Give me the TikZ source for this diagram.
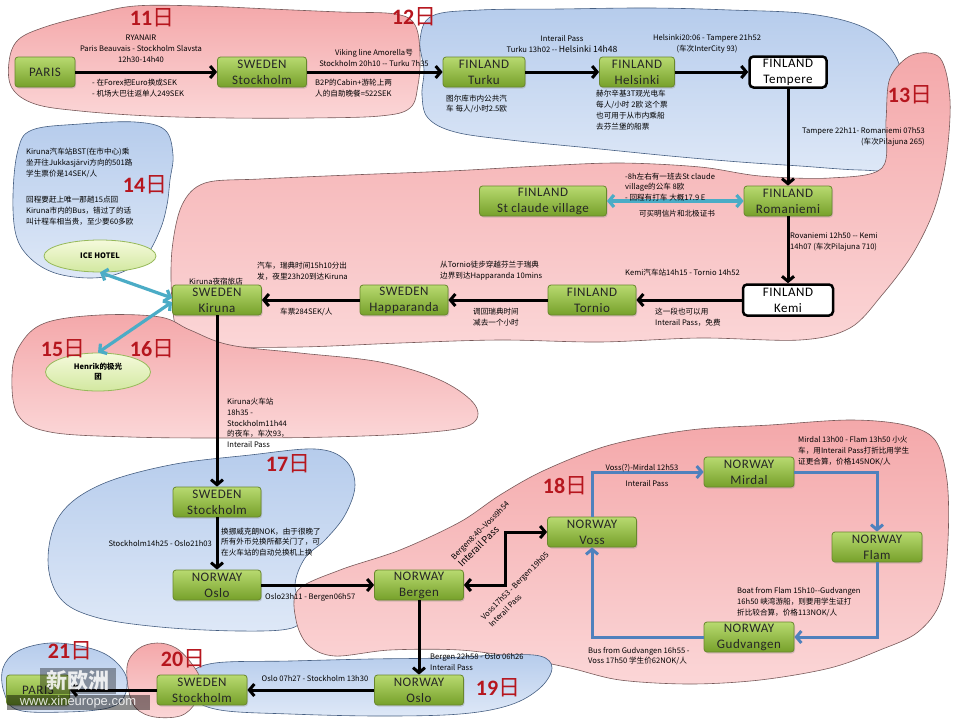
\documentclass[tikz,border=0pt]{standalone}
\usepackage{fontspec}
\setmainfont{Carlito}
\newfontfamily\cjk{Noto Sans CJK SC}
\newfontfamily\nodefont[LetterSpace=4]{Carlito}
\newfontfamily\wmfont{Liberation Sans}
\usetikzlibrary{arrows.meta,shapes.geometric,shadows,calc}
\definecolor{pinkT}{RGB}{244,168,170}
\definecolor{pinkB}{RGB}{251,214,215}
\definecolor{blueT}{RGB}{182,204,236}
\definecolor{blueB}{RGB}{222,232,247}
\definecolor{pinkLine}{RGB}{120,90,90}
\definecolor{blueLine}{RGB}{70,95,130}
\definecolor{gT}{RGB}{184,218,112}
\definecolor{gB}{RGB}{118,160,42}
\definecolor{gLine}{RGB}{105,135,45}
\definecolor{ellT}{RGB}{245,250,220}
\definecolor{ellB}{RGB}{210,232,160}
\definecolor{ellLine}{RGB}{150,185,90}
\definecolor{dayred}{RGB}{182,22,30}
\definecolor{tealA}{RGB}{75,172,198}
\definecolor{nblue}{RGB}{79,129,189}
\tikzset{
  pinkblob/.style={draw=pinkLine, line width=0.6pt, top color=pinkT, bottom color=pinkB},
  blueblob/.style={draw=blueLine, line width=0.6pt, top color=blueT, bottom color=blueB},
  gbox/.style={rectangle, rounded corners=3pt, draw=gLine, line width=0.8pt,
    top color=gT, bottom color=gB, minimum width=88pt, minimum height=30pt,
    inner sep=0pt, align=center, text=black!85,
    font=\nodefont\fontsize{13}{16}\selectfont,
    drop shadow={opacity=0.3, shadow xshift=1pt, shadow yshift=-1.5pt}},
  wbox/.style={rectangle, rounded corners=4pt, draw=black, line width=2.5pt,
    fill=white, minimum width=77pt, minimum height=31pt, inner sep=0pt,
    align=center, font=\nodefont\fontsize{13}{16}\selectfont},
  ell/.style={ellipse, draw=ellLine, line width=0.8pt, top color=ellT, bottom color=ellB,
    inner sep=0pt, align=center, font=\cjk\bfseries\fontsize{7.5}{10}\selectfont},
  lbl/.style={inner sep=0pt, align=left, font=\cjk\fontsize{7.6}{10.8}\selectfont},
  clbl/.style={lbl, align=center},
  rlbl/.style={lbl, align=right},
  day/.style={inner sep=0pt, text=dayred, font=\fontsize{22}{22}\selectfont\bfseries},
  blk/.style={draw=black, line width=3pt, -{Straight Barb[length=5pt,width=12pt]}},
  blkboth/.style={draw=black, line width=3pt, {Straight Barb[length=5pt,width=12pt]}-{Straight Barb[length=5pt,width=12pt]}},
  barr/.style={draw=nblue, line width=3pt, -{Straight Barb[length=5pt,width=12pt]}},
  tarr/.style={draw=tealA, line width=3.2pt, {Straight Barb[length=5pt,width=12pt]}-{Straight Barb[length=5pt,width=12pt]}},
}
\newcommand{\ri}{{\cjk\mdseries 日}}
\begin{document}
\begin{tikzpicture}[x=1pt,y=-1pt]
\useasboundingbox (0,0) rectangle (960,720);
\fill[white] (0,0) rectangle (960,720);
% ---------- background blobs ----------
\path[blueblob] plot[smooth cycle, tension=0.6] coordinates {(420,40) (432,16) (480,10) (560,9) (650,8) (730,10) (810,14) (865,28) (895,55) (905,95) (906,135) (900,168) (860,170) (800,166) (740,162) (670,156) (590,148) (510,140) (455,132) (428,118) (422,95) (424,70)};
\path[pinkblob] plot[smooth cycle, tension=0.6] coordinates {(9,62) (18,40) (45,27) (90,15) (135,6) (200,6) (270,9) (340,12) (395,14) (415,25) (420,55) (418,85) (410,108) (380,116) (310,118) (230,118) (150,116) (80,111) (35,104) (12,88)};
\path[pinkblob] plot[smooth cycle, tension=0.55] coordinates {(205,183) (260,179) (350,175) (450,171) (540,166) (620,163) (700,167) (760,176) (830,178) (882,168) (886,120) (890,78) (912,55) (940,58) (950,100) (946,160) (934,210) (912,255) (882,295) (850,328) (800,340) (700,338) (600,342) (500,340) (400,343) (300,347) (215,346) (180,335) (172,300) (172,250) (182,205)};
\path[blueblob] plot[smooth cycle, tension=0.6] coordinates {(18,150) (32,130) (80,124) (135,122) (165,130) (173,155) (170,180) (167,205) (160,230) (145,257) (120,273) (90,278) (55,273) (30,258) (16,235) (13,195)};
\path[pinkblob] plot[smooth cycle, tension=0.6] coordinates {(12,375) (20,345) (45,323) (100,315) (160,317) (190,330) (230,345) (300,353) (380,362) (440,380) (475,405) (470,425) (420,433) (330,437) (230,438) (130,437) (50,432) (18,415)};
\path[blueblob] plot[smooth cycle, tension=0.6] coordinates {(48,560) (60,515) (100,485) (170,465) (250,455) (315,449) (345,460) (355,485) (345,515) (325,540) (305,558) (295,585) (302,612) (292,628) (240,631) (160,627) (95,617) (60,598)};
\path[pinkblob] plot[smooth cycle, tension=0.55] coordinates {(298,590) (340,570) (400,550) (460,522) (500,495) (545,470) (610,445) (690,430) (770,425) (850,420) (905,425) (935,440) (947,480) (948,540) (941,600) (918,632) (880,650) (830,668) (760,680) (690,684) (620,680) (570,668) (520,658) (460,650) (390,650) (335,656) (308,645) (296,620)};
\path[blueblob] plot[smooth cycle, tension=0.6] coordinates {(190,675) (215,663) (290,661) (370,659) (440,658) (500,655) (540,656) (552,668) (540,688) (510,705) (460,714) (380,716) (290,714) (220,710) (192,697)};
\path[pinkblob] plot[smooth cycle, tension=0.6] coordinates {(127,667) (138,649) (157,643) (176,648) (192,664) (201,682) (196,702) (180,716) (150,716) (132,702)};
\path[blueblob] plot[smooth cycle, tension=0.6] coordinates {(3,668) (18,651) (50,643) (85,647) (110,657) (126,676) (124,697) (108,708) (66,712) (18,710) (4,692)};
% ---------- nodes ----------
\node[gbox, minimum width=60pt] (paris) at (45,72) {PARIS};
\node[gbox, minimum width=89pt] (sto1) at (262,72) {SWEDEN\\Stockholm};
\node[gbox, minimum width=82pt] (turku) at (484,72) {FINLAND\\Turku};
\node[gbox, minimum width=75pt] (hel) at (637,72) {FINLAND\\Helsinki};
\node[wbox] (tam) at (788,72) {FINLAND\\Tempere};
\node[gbox] (rov) at (788,201) {FINLAND\\Romaniemi};
\node[gbox, minimum width=127pt] (stc) at (543,201) {FINLAND\\St claude village};
\node[wbox, minimum width=90pt] (kemi) at (788,300) {FINLAND\\Kemi};
\node[gbox] (tor) at (592,300) {FINLAND\\Tornio};
\node[gbox] (hap) at (404,300) {SWEDEN\\Happaranda};
\node[gbox, minimum width=89pt] (kir) at (217,300) {SWEDEN\\Kiruna};
\node[ell, minimum width=112pt, minimum height=32pt] (ice) at (100,256) {ICE HOTEL};
\node[ell, minimum width=105pt, minimum height=38pt] (hen) at (98,372) {Henrik的极光\\团};
\node[gbox] (sto2) at (217,502) {SWEDEN\\Stockholm};
\node[gbox] (osl1) at (217,585) {NORWAY\\Oslo};
\node[gbox, minimum width=89pt] (ber) at (419,585) {NORWAY\\Bergen};
\node[gbox, minimum width=89pt] (voss) at (592,532) {NORWAY\\Voss};
\node[gbox, minimum width=90pt] (mir) at (749,472) {NORWAY\\Mirdal};
\node[gbox, minimum width=90pt] (flam) at (877,547) {NORWAY\\Flam};
\node[gbox, minimum width=90pt] (gud) at (749,637) {NORWAY\\Gudvangen};
\node[gbox, minimum width=89pt] (osl2) at (419,690) {NORWAY\\Oslo};
\node[gbox, minimum width=90pt] (sto3) at (202,690) {SWEDEN\\Stockholm};
\node[gbox, minimum width=63pt] (par2) at (38,690) {PARIS};
% ---------- connectors ----------
\draw[blk] (paris) -- (sto1);
\draw[blk] (sto1) -- (turku);
\draw[blk] (turku) -- (hel);
\draw[blk] (hel) -- (tam);
\draw[blk] (tam) -- (rov);
\draw[blk] (rov) -- (kemi);
\draw[blk] (kemi) -- (tor);
\draw[blk] (tor) -- (hap);
\draw[blk] (hap) -- (kir);
\draw[blk] (kir) -- (sto2);
\draw[blk] (sto2) -- (osl1);
\draw[blk] (osl1) -- (ber);
\draw[blkboth] (ber.east) -- ++(42,0) |- (voss.west);
\draw[barr] (voss.north) |- (mir.west);
\draw[barr] (mir.east) -| (flam.north);
\draw[barr] (flam.south) |- (gud.east);
\draw[barr] (gud.west) -| (voss.south);
\draw[blk] (ber) -- (osl2);
\draw[blk] (osl2) -- (sto3);
\draw[blk] (sto3) -- (par2);
\draw[tarr] (stc) -- (rov);
\draw[tarr] (ice.south) -- ([yshift=2pt]kir.west);
\draw[tarr] (hen.north) -- ([yshift=-2pt]kir.west);
% ---------- labels ----------
\node[clbl] (t1) at (141,49) {RYANAIR\\Paris Beauvais - Stockholm Slavsta\\12h30-14h40};
\node[lbl, anchor=west] (t2) at (92,88) {- 在Forex把Euro换成SEK\\- 机场大巴往返单人249SEK};
\node[clbl] (t3) at (374,58) {Viking line Amorella号\\Stockholm 20h10 -- Turku 7h35};
\node[lbl, anchor=west] (t4) at (315,88) {B2P的Cabin+游轮上两\\人的自助晚餐=522SEK};
\node[clbl] (t5) at (562,44) {Interail Pass\\Turku 13h02 -- {\fontsize{8.6}{10.8}\selectfont Helsinki 14h48}};
\node[clbl] (t6) at (707,44) {Helsinki20:06 - Tampere 21h52\\(车次InterCity 93)};
\node[lbl, anchor=west] (t7) at (446,104) {图尔库市内公共汽\\车 每人/小时2.5欧};
\node[lbl, anchor=west] (t8) at (596,110) {赫尔辛基3T观光电车\\每人/小时 2欧 这个票\\也可用于从市内乘船\\去芬兰堡的船票};
\node[rlbl, anchor=east] (t9) at (925,137) {Tampere 22h11- Romaniemi 07h53\\(车次Pilajuna 265)};
\node[lbl, anchor=west] (t10) at (625,187) {-8h左右有一班去St claude\\village的公车 8欧\\- 回程有打车 大概17.9 E};
\node[clbl] (t11) at (677,214) {可买明信片和北极证书};
\node[lbl, anchor=west] (t12) at (790,242) {Rovaniemi 12h50 -- Kemi\\14h07 (车次Pilajuna 710)};
\node[lbl, anchor=west] (t13) at (625,273) {Kemi汽车站14h15 - Tornio 14h52};
\node[lbl, anchor=west] (t14) at (655,317) {这一段也可以用\\Interail Pass，免费};
\node[lbl, anchor=west] (t15) at (440,271) {从Tornio徒步穿越芬兰于瑞典\\边界到达Happaranda 10mins};
\node[lbl, anchor=west] (t16) at (473,317) {调回瑞典时间\\减去一个小时};
\node[lbl, anchor=west] (t17) at (257,271) {汽车，瑞典时间15h10分出\\发，夜里23h20到达Kiruna};
\node[clbl] (t18) at (216,282) {Kiruna夜宿旅店};
\node[lbl, anchor=west] (t19) at (280,312) {车票284SEK/人};
\node[lbl, anchor=west] (t20) at (26,163) {Kiruna汽车站BST(在市中心)乘\\坐开往Jukkasjärvi方向的501路\\学生票价是14SEK/人};
\node[lbl, anchor=west] (t21) at (26,211) {回程要赶上唯一那趟15点回\\Kiruna市内的Bus，错过了的话\\叫计程车相当贵，至少要60多欧};
\node[lbl, anchor=west] (t22) at (227,423) {Kiruna火车站\\18h35 -\\Stockholm11h44\\的夜车，车次93，\\Interail Pass};
\node[rlbl, anchor=east] (t23) at (212,544) {Stockholm14h25 - Oslo21h03};
\node[lbl, anchor=west] (t24) at (221,542) {换挪威克朗NOK，由于很晚了\\所有外币兑换所都关门了，可\\在火车站的自动兑换机上换};
\node[lbl, anchor=west] (t25) at (265,597) {Oslo23h11 - Bergen06h57};
\node[lbl, anchor=west, rotate=45] (t26) at (456,562) {Bergen8:40--Voss9h54\\{\fontsize{9.5}{11}\selectfont Interail Pass}};
\node[lbl, anchor=west, rotate=45] (t27) at (486,622) {Voss17h53 - Bergen 19h05\\Interail Pass};
\node[clbl] (t28) at (642,468) {Voss(?)-Mirdal 12h53};
\node[clbl] (t29) at (647,484) {Interail Pass};
\node[lbl, anchor=west] (t30) at (798,451) {Mirdal 13h00 - Flam 13h50 小火\\车，用Interail Pass打折比用学生\\证更合算，价格145NOK/人};
\node[lbl, anchor=west] (t31) at (737,602) {Boat from Flam 15h10--Gudvangen\\16h50 峡湾游船，则要用学生证打\\折比较合算，价格113NOK/人};
\node[lbl, anchor=west] (t32) at (588,656) {Bus from Gudvangen 16h55 -\\Voss 17h50 学生价62NOK/人};
\node[lbl, anchor=west] (t33) at (430,662) {Bergen 22h58 - Oslo 06h26\\Interail Pass};
\node[clbl] (t34) at (315,679) {Oslo 07h27 - Stockholm 13h30};
% ---------- day labels ----------
\node[day] (d11) at (152,18) {11\ri};
\node[day] (d12) at (414,17) {12\ri};
\node[day] (d13) at (910,95) {13\ri};
\node[day] (d14) at (145,185) {14\ri};
\node[day] (d15) at (63,349) {15\ri};
\node[day] (d16) at (152,349) {16\ri};
\node[day] (d17) at (288,464) {17\ri};
\node[day] (d18) at (565,486) {18\ri};
\node[day] (d19) at (498,688) {19\ri};
\node[day] (d20) at (183,659) {20\ri};
\node[day] (d21) at (70,651) {21\ri};
% ---------- watermark ----------
\fill[black, opacity=0.35] (40,668) rectangle (116,694);
\node[inner sep=0pt, text=white, opacity=0.85, font=\cjk\bfseries\fontsize{21}{21}\selectfont] (wm1) at (78,681) {新欧洲};
\fill[black, opacity=0.45] (7,695) rectangle (150,710);
\node[inner sep=0pt, text=white, opacity=0.85, font=\wmfont\fontsize{13}{13}\selectfont] (wm2) at (78,702.5) {www.xineurope.com};
\end{tikzpicture}
\end{document}
